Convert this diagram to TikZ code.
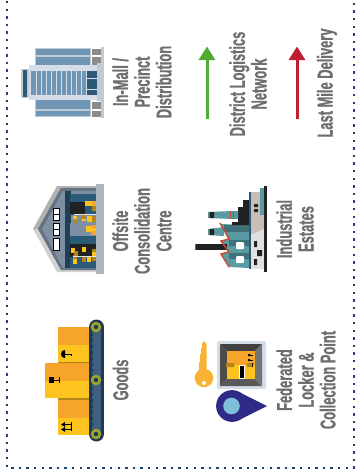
\documentclass[tikz,border=0pt]{standalone}
\usepackage{fontspec}
\setmainfont[FakeStretch=0.6,BoldFeatures={FakeBold=0.8}]{Liberation Sans}
\usepackage{xcolor}
\usepackage{tikz}
\usetikzlibrary{arrows.meta, positioning}
\definecolor{mynavy}{HTML}{1F3F77}
\definecolor{mytext}{HTML}{6D6E70}
\definecolor{mygreen}{HTML}{4FAE32}
\definecolor{myred}{HTML}{BE1E2D}
\definecolor{myslate}{HTML}{6F97B5}
\definecolor{mydeep}{HTML}{2B5A78}
\definecolor{mypale}{HTML}{D5DDE6}
\definecolor{mysteel}{HTML}{C0CBD6}
\definecolor{myorange}{HTML}{F7A52A}
\definecolor{myyellow}{HTML}{FDC41F}
\definecolor{mybrown}{HTML}{B5851A}
\definecolor{myteal}{HTML}{5A9AA3}
\definecolor{myfir}{HTML}{3F7178}
\definecolor{mybrick}{HTML}{C8452E}
\definecolor{mycoal}{HTML}{222222}
\definecolor{mybelt}{HTML}{40607F}
\definecolor{mybeltdark}{HTML}{1F3A56}
\definecolor{myolive}{HTML}{9AA32E}
\definecolor{mytaupe}{HTML}{C8BDB9}
\definecolor{mypin}{HTML}{2E2A85}
\definecolor{mysky}{HTML}{7FBFDC}
\definecolor{mykey}{HTML}{F9B234}
\definecolor{myroof}{HTML}{7F8FA3}
\tikzstyle{lbl} = [rotate=90, align=center, inner sep=0pt, text=mytext, font=\fontsize{21.5}{21.7}\selectfont\bfseries]
\tikzstyle{arrow} = [line width=3pt, -{Triangle[width=16pt,length=13.5pt]}]
\tikzstyle{dots} = [mynavy, line width=2.4pt, dash pattern=on 2.4pt off 5.2pt]

\begin{document}
\begin{tikzpicture}[x=1pt, y=-1pt]
    \useasboundingbox (0,0) rectangle (359,474);
    % dotted frame
    \draw[dots] (7,1) -- (7,468) -- (354,468) -- (354,1);

    % tower
    \fill[mysteel] (35,48) rectangle (91,117);
    \foreach \a/\b in {49/55, 57/65, 100/109, 111/116}{
        \fill[myslate] (36,\a) rectangle (90,\b);
    }
    \foreach \a/\b in {49/55, 57/65, 102/109, 111/117}{
        \fill[gray!90] (92,\a) rectangle (101,\b);
    }
    \fill[mysteel] (101,47) rectangle (104,118);
    \fill[mysteel] (97,63) rectangle (104,101);
    \fill[mypale] (29,65) rectangle (97,100);
    \fill[myslate] (31,71) rectangle (87,95);
    \foreach \x in {36,41,...,86}{
        \draw[mypale, line width=0.8pt] (\x,71) -- (\x,95);
    }
    \fill[mydeep] (87,71) rectangle (97,95);
    \draw[mypale, line width=0.8pt] (87,78) -- (97,78) (87,89) -- (97,89);
    \fill[mysteel] (21,69) rectangle (29,98);
    \fill[mydeep] (23,70) rectangle (27,97);

    % warehouse
    \fill[black!30] (33,229) -- (57,186) -- (96,186) -- (96,229) -- cycle;
    \fill[black!18] (33,229) -- (57,272) -- (96,272) -- (96,229) -- cycle;
    \fill[myroof!80!black] (38,229) -- (61,188) -- (96,188) -- (96,270) -- (61,270) -- cycle;
    \fill[myroof] (42,229) -- (63,191) -- (96,191) -- (96,268) -- (63,268) -- cycle;
    \fill[mydeep!70!black] (65,191) rectangle (71,268);
    \foreach \a in {208,223,238}{
        \fill[white] (53,\a) rectangle (59,\a+12);
        \draw[black, line width=0.9pt] (53,\a) rectangle (59,\a+12);
    }
    \draw[black, line width=0.9pt] (53,214) -- (59,214) (53,229) -- (59,229);
    \fill[mydeep] (70,194) rectangle (96,215);
    \fill[mydeep] (70,236) rectangle (96,268);
    \fill[mycoal] (70,202) rectangle (85,214);
    \fill[myyellow] (85,201) rectangle (92,206);
    \fill[myorange] (92,201) rectangle (96,206);
    \fill[mybrown] (92,206) rectangle (96,211);
    \fill[white!80!gray] (74,214) rectangle (96,215);
    \fill[myyellow] (73,216) rectangle (77,219);
    \fill[mybrown] (73,220) rectangle (77,223);
    \fill[myyellow] (87,216) rectangle (92,222);
    \fill[mybrown] (92,216) rectangle (96,222);
    \fill[mybrown] (82,215) rectangle (86,219);
    \fill[myyellow] (82,219) rectangle (86,221);
    \fill[myroof] (70,223) rectangle (96,236);
    \fill[myyellow] (86,226) rectangle (91,232);
    \fill[myorange] (91,225) rectangle (96,235);
    \fill[myyellow] (91,228) rectangle (96,231);
    \fill[mycoal] (70,244) rectangle (96,257);
    \foreach \x/\y/\c in {71/248/myyellow, 82/247/myyellow, 92/249/mybrown, 74/251/mybrown, 92/252/myyellow, 73/255/mybrown, 73/259/myyellow, 82/257/mybrown, 87/257/myyellow, 92/256/mybrown}{
        \fill[\c] (\x,\y) rectangle ++(4,5);
    }
    \fill[white!80!gray] (73,256) rectangle (96,257);
    \fill[mysteel!70!gray] (96,184) rectangle (104,274);

    % goods
    \fill[myorange] (58,327) rectangle (89,345);
    \fill[myyellow] (58,345) rectangle (89,362);
    \fill[myorange] (45,363) rectangle (89,381);
    \fill[myyellow] (45,381) rectangle (89,398);
    \fill[myorange] (58,400) rectangle (89,418);
    \fill[myyellow] (58,418) rectangle (89,435);
    \fill[mybrown] (58,362) rectangle (89,363) (58,398) rectangle (89,400);
    \fill[black] (65,350) -- (62,351) -- (61,354) -- (62,357) -- (65,358) -- cycle;
    \draw[black, line width=0.6pt] (65,354) -- (71,354) -- (71,356);
    \fill[black] (49,377) rectangle (54,383);
    \draw[black, line width=0.6pt] (54,380) -- (59,380) (59,377) -- (59,383);
    \draw[black, line width=0.8pt] (71,422) -- (71,431) (62,424.5) -- (71,424.5) (62,429.5) -- (71,429.5);
    \fill[black] (61,424.5) -- (65,422) -- (65,427) -- cycle (61,429.5) -- (65,427) -- (65,432) -- cycle;
    \draw[line width=15pt, line cap=round, mybeltdark] (96.5,327) -- (96.5,434);
    \fill[mybelt] (92,327) rectangle (101,434);
    \draw[mybeltdark, line width=0.5pt, dashed] (92,327) -- (92,434) (101,327) -- (101,434);
    \foreach \y in {327,380,434}{
        \fill[myolive] (96,\y) circle (5.3);
        \fill[mybeltdark] (96,\y) circle (2.2);
    }

    % factory
    \fill[black!12] (250,192) rectangle (264,269);
    \fill[mytaupe] (250,192) -- (264,192) -- (264,229) -- (250,235) -- cycle;
    \fill[myteal] (260,188) rectangle (264,215);
    \fill[myteal] (220,224) -- (229,239) -- (222,241) -- (229,252) -- (222,254) -- (229,267) -- (249,268) -- (249,225) -- cycle;
    \fill[myfir] (224,225) rectangle (249,232);
    \fill[myfir] (229,240) rectangle (249,246);
    \fill[myfir] (229,253) rectangle (249,259);
    \fill[mycoal] (243,200) -- (249,200) -- (249,225) -- (232,225) -- (232,222) -- (238,222) -- (238,207) -- (243,207) -- cycle;
    \fill[myteal] (208,212) -- (232,211) -- (238,211) -- (238,219) -- (232,219) -- (208,218) -- cycle;
    \fill[myteal] (208,229) -- (224,227) -- (224,236) -- (208,235) -- cycle;
    \fill[mycoal] (210,212) rectangle (214,218) (210,229) rectangle (214,235);
    \draw[mybrick, line width=1pt] (209,212) -- (209,218) (209,229) -- (209,235) (230.5,211) -- (230.5,219) (233,211) -- (233,219);
    \fill[mycoal] (195,244) rectangle (227,250);
    \fill[mybrick] (194.5,244) rectangle (196,250);
    \draw[mybrick, line width=1.4pt] (220,223) -- (229,239) -- (221,241) -- (229,252) -- (221,254) -- (229,267);
    \fill[white, rounded corners=1pt] (236,242) rectangle (244,249);
    \fill[white, rounded corners=1pt] (236,256) rectangle (244,263);
    \fill[mydeep] (249,192) rectangle (251,269);
    \fill[mycoal] (254,204) rectangle (258,207) (254,209) rectangle (258,212);
    \fill[mycoal] (254,241) rectangle (257,247) (257,250) rectangle (262,256) (254,259) rectangle (257,265);
    \fill[mycoal] (264,186) rectangle (267,272);

    % locker
    \fill[mypale, rounded corners=1.5pt] (217,341) rectangle (266,389);
    \fill[black!75] (220,344) -- (262,344) -- (255,351) -- (227,351) -- cycle;
    \fill[black!70] (220,344) -- (220,386) -- (227,379) -- (227,351) -- cycle;
    \fill[black!65] (220,386) -- (262,386) -- (255,379) -- (227,379) -- cycle;
    \fill[black!55] (262,344) -- (262,386) -- (255,379) -- (255,351) -- cycle;
    \fill[myorange] (227,351) rectangle (255,365);
    \fill[myyellow] (227,365) rectangle (255,379);
    \fill[mybrown] (226,363) rectangle (234,367) (247,363) rectangle (253,367);
    \fill[white] (239,365) rectangle (245,378.5);
    \fill[black] (240,366) rectangle (244,378);
    \draw[black, line width=0.6pt] (248,355) -- (253,355) (248,360) -- (253,360) (252.5,363) -- (252.5,367);
    \fill[black] (248,354) rectangle (250,356) (248,359) rectangle (250,361);
    % key
    \fill[mykey] (202,344) -- (204,341) -- (206.5,344) -- (206.5,372) -- (199,372) -- (199,362) -- (200,362) -- (200,354) -- (201,354) -- (201,348) -- (202,348) -- cycle;
    \fill[mykey] (204,378) circle (9.3);
    \fill[white] (204,383) circle (2);
    % pin
    \fill[mypin] (267,406) -- (237,391) -- (237,421) -- cycle;
    \fill[mypin] (232,406) circle (15.9);
    \fill[mysky] (231.5,406) circle (8.3);

    % arrows
    \coordinate (greenbase) at (207,119);
    \coordinate (greentip) at (207,46.5);
    \coordinate (redbase) at (297,119);
    \coordinate (redtip) at (297,46.5);
    \draw[arrow, mygreen] (greenbase) -- (greentip);
    \draw[arrow, myred] (redbase) -- (redtip);

    % labels
    \node[lbl] (mall) at (142,82) {In-Mall /\\Precinct\\Distribution};
    \node[lbl] (centre) at (142,231) {Offsite\\Consolidation\\Centre};
    \node[lbl] (goods) at (120.5,380) {Goods};
    \node[lbl] (district) at (248,84) {District Logistics\\Network};
    \node[lbl] (lastmile) at (327,83) {Last Mile Delivery};
    \node[lbl] (estates) at (295,229) {Industrial\\Estates};
    \node[lbl] (locker) at (306,380) {Federated\\Locker \&\\Collection Point};
\end{tikzpicture}
\end{document}
